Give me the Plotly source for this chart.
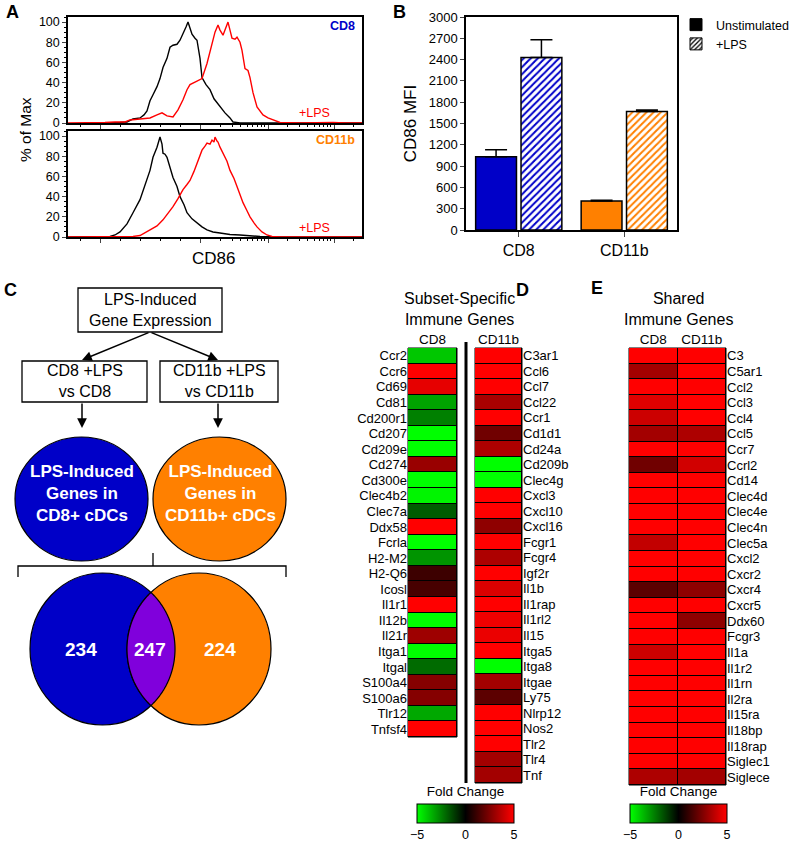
import numpy as np
import plotly.graph_objects as go

W, H = 794, 842
FONT = "Liberation Sans, Arial, sans-serif"

# ---------------- Panel A: CD86 histograms (% of max) ----------------
cd8_ctrl_x = [100,110,120,127,133,140,144,147,150,153,157,160,163,167,170,173,177,180,183,186,188,190,192,195,197,200,202,206,210,214,220,225,230,233,240,290,362]
cd8_ctrl_y = [0,0,0.5,1,4,5,8,12,22,28,36,44,55,64,75,77,78,82,88,95,100,94,88,84,82,64,45,38,33,24,16,10,5,1,0,0,0]
cd8_lps_x = [68,100,105,115,125,130,140,150,157,162,167,173,178,183,187,190,196,202,207,212,215,218,220,223,226,228,230,232,235,237,240,242,245,248,250,253,257,263,268,273,280,300,320,327,333,345,362]
cd8_lps_y = [0,0,0.5,1,1,3,4,5,8,10,7,6,13,23,33,38,41,44,59,79,90,97,92,87,96,100,92,84,83,85,80,72,54,52,45,30,16,8,5,3,0.5,0,0.5,1,0.5,0,0]
cd11b_ctrl_x = [68,100,110,115,120,127,130,133,140,147,150,153,157,160,162,163,165,167,170,173,177,180,184,187,192,197,202,207,213,220,230,240,250,260,280,362]
cd11b_ctrl_y = [0,0,0.5,2,5,13,19,24,37,59,66,79,89,99,92,83,82,79,70,59,50,40,32,24,18,14,10,7,5,4,2.5,2,1,0.5,0,0]
cd11b_lps_x = [68,120,133,140,150,157,163,168,173,178,183,187,190,194,197,200,202,205,207,210,212,214,215,217,218,220,223,227,230,234,237,240,243,247,250,254,257,262,267,272,280,362]
cd11b_lps_y = [0,0,0.5,1.5,7,11,17,23,30,38,47,52,56,65,73,80,86,90,93,92,96,94,99,95,94,89,83,75,66,58,50,42,34,26,20,14,10,5,2,0.5,0,0]
hist_yticks = [0, 20, 40, 60, 80, 100]

# ---------------- Panel B: CD86 MFI ----------------
b_categories = ["CD8", "CD11b"]
b_unstim = [1030, 410]
b_unstim_err = [100, 10]
b_lps = [2430, 1670]
b_lps_err = [250, 20]
b_colors = ["#0000C8", "#FF8000"]

# ---------------- Panel C: Venn counts ----------------
venn_counts = {"cd8_only": 234, "shared": 247, "cd11b_only": 224}

# ---------------- Panel D: subset-specific genes ----------------
d_cd8_genes = ["Ccr2","Ccr6","Cd69","Cd81","Cd200r1","Cd207","Cd209e","Cd274","Cd300e","Clec4b2",
               "Clec7a","Ddx58","Fcrla","H2-M2","H2-Q6","Icosl","Il1r1","Il12b","Il21r","Itga1",
               "Itgal","S100a4","S100a6","Tlr12","Tnfsf4"]
d_cd8_fc = [-3.9,5,4.5,-3.2,-2.5,-5,-5,3.0,-5,-4.8,
            -1.8,5,-5,-2.9,1.2,1.4,5,-5,3.1,-5,
            -2.1,2.6,2.6,-3.3,5]
d_cd11b_genes = ["C3ar1","Ccl6","Ccl7","Ccl22","Ccr1","Cd1d1","Cd24a","Cd209b","Clec4g","Cxcl3",
                 "Cxcl10","Cxcl16","Fcgr1","Fcgr4","Igf2r","Il1b","Il1rap","Il1rl2","Il15","Itga5",
                 "Itga8","Itgae","Ly75","Nlrp12","Nos2","Tlr2","Tlr4","Tnf"]
d_cd11b_fc = [5,5,5,3.3,5,2.2,3.4,-5,-5,5,
              5,2.8,5,3.4,5,4.3,5,4.7,4.6,5,
              -5,3.2,1.8,5,5,5,3.2,3.2]

# ---------------- Panel E: shared genes ----------------
e_genes = ["C3","C5ar1","Ccl2","Ccl3","Ccl4","Ccl5","Ccr7","Ccrl2","Cd14","Clec4d",
           "Clec4e","Clec4n","Clec5a","Cxcl2","Cxcr2","Cxcr4","Cxcr5","Ddx60","Fcgr3","Il1a",
           "Il1r2","Il1rn","Il2ra","Il15ra","Il18bp","Il18rap","Siglec1","Siglece"]
e_cd8_fc = [5,3.2,5,4.4,4.0,3.2,5,2.2,5,5,
            5,5,3.8,5,5,1.8,5,5,5,4.0,
            5,5,5,5,5,5,5,3.4]
e_cd11b_fc = [5,5,5,5,5,3.4,5,4.1,5,5,
              5,5,5,5,5,2.8,5,2.8,5,5,
              5,5,5,5,5,5,5,3.2]
fc_ticks = [-5, 0, 5]

COLORSCALE = [[0, "#00FF00"], [0.5, "#000000"], [1, "#FF0000"]]


def dx(a, b):
    return [a / W, b / W]


def dy(top, bottom):
    return [1 - bottom / H, 1 - top / H]


fig = go.Figure()

# ---- Panel A traces
for xs, ys, col, ax in [(cd8_ctrl_x, cd8_ctrl_y, "black", "1"), (cd8_lps_x, cd8_lps_y, "#FF0000", "1"),
                        (cd11b_ctrl_x, cd11b_ctrl_y, "black", "2"), (cd11b_lps_x, cd11b_lps_y, "#FF0000", "2")]:
    fig.add_trace(go.Scatter(x=xs, y=ys, mode="lines", line=dict(color=col, width=1.4),
                             xaxis="x" if ax == "1" else "x2", yaxis="y" if ax == "1" else "y2",
                             showlegend=False, hoverinfo="skip"))

# ---- Panel B traces
fig.add_trace(go.Bar(x=b_categories, y=b_unstim, name="Unstimulated", xaxis="x3", yaxis="y3",
                     marker=dict(color=b_colors, line=dict(color="black", width=1.5)),
                     error_y=dict(type="data", array=b_unstim_err, arrayminus=[0, 0], symmetric=False,
                                  color="black", thickness=1.5, width=11),
                     showlegend=False))
fig.add_trace(go.Bar(x=b_categories, y=b_lps, name="+LPS", xaxis="x3", yaxis="y3",
                     marker=dict(color=b_colors, line=dict(color="black", width=1.5),
                                 pattern=dict(shape="/", fgcolor=b_colors, bgcolor="white",
                                              size=5, solidity=0.4, fillmode="replace")),
                     error_y=dict(type="data", array=b_lps_err, arrayminus=[0, 0], symmetric=False,
                                  color="black", thickness=1.5, width=11),
                     showlegend=False))
# legend entries
fig.add_trace(go.Bar(x=[None], y=[None], name="Unstimulated", xaxis="x7", yaxis="y7",
                     marker=dict(color="black", line=dict(color="black", width=1))))
fig.add_trace(go.Bar(x=[None], y=[None], name="+LPS", xaxis="x7", yaxis="y7",
                     marker=dict(color="black", line=dict(color="black", width=1),
                                 pattern=dict(shape="/", fgcolor="black", bgcolor="white",
                                              size=4, solidity=0.4, fillmode="replace"))))

# ---- Panel D heatmaps
fig.add_trace(go.Heatmap(z=[[v] for v in d_cd8_fc], x=["CD8"], y=d_cd8_genes, xaxis="x4", yaxis="y4",
                         coloraxis="coloraxis", xgap=1, ygap=1, hoverinfo="skip"))
fig.add_trace(go.Heatmap(z=[[v] for v in d_cd11b_fc], x=["CD11b"], y=d_cd11b_genes, xaxis="x5", yaxis="y5",
                         coloraxis="coloraxis", xgap=1, ygap=1, hoverinfo="skip"))
# ---- Panel E heatmap
fig.add_trace(go.Heatmap(z=[[a, b] for a, b in zip(e_cd8_fc, e_cd11b_fc)], x=["CD8", "CD11b"], y=e_genes,
                         xaxis="x6", yaxis="y6", coloraxis="coloraxis2", xgap=1, ygap=1, hoverinfo="skip"))

axfont = dict(family=FONT, size=12.5, color="black")

# Panel A axes
major_x = [100, 200, 268, 334]
minor_x = [80, 120, 140, 160, 180] + [200 + 68 * np.log10(k) for k in range(2, 10)] + \
          [268 + 66 * np.log10(k) for k in range(2, 10)] + [334 + 66 * np.log10(k) for k in range(2, 4)]
for i, (top, bot) in enumerate([(17, 123), (131, 237)]):
    n = "" if i == 0 else "2"
    fig.update_layout(**{
        f"xaxis{n}": dict(domain=dx(68, 362), range=[68, 362], anchor=f"y{n}", showgrid=False, zeroline=False,
                          showline=True, mirror=True, linecolor="black", linewidth=1.5, automargin=False,
                          ticks="outside", ticklen=4, tickwidth=1, tickvals=major_x, showticklabels=False,
                          minor=dict(tickvals=minor_x, ticks="outside", ticklen=2, tickcolor="black")),
        f"yaxis{n}": dict(domain=dy(top, bot), range=[0, 105], anchor=f"x{n}", showgrid=False, zeroline=False,
                          showline=True, mirror=True, linecolor="black", linewidth=1.5, automargin=False,
                          ticks="outside", ticklen=4, tickvals=hist_yticks, tickfont=axfont,
                          minor=dict(dtick=5, ticks="outside", ticklen=2, tickcolor="black")),
    })

# Panel B axes
fig.update_layout(
    xaxis3=dict(domain=dx(466, 677), anchor="y3", showgrid=False, zeroline=False, showline=True, mirror=True,
                automargin=False,
                linecolor="black", linewidth=1.5, ticks="outside", ticklen=5, tickfont=dict(family=FONT, size=16)),
    yaxis3=dict(domain=dy(17, 230), range=[0, 3000], dtick=300, anchor="x3", showgrid=False, zeroline=False,
                showline=True, mirror=True, linecolor="black", linewidth=1.5, ticks="outside", ticklen=4,
                automargin=False, tickfont=dict(family=FONT, size=13),
                title=dict(text="CD86 MFI", font=dict(family=FONT, size=17), standoff=8)),
    barmode="group", bargap=0.14, bargroupgap=0.1,
)

# Heatmap axes
hm_x = dict(showgrid=False, zeroline=False, showline=False, ticks="", side="top", automargin=False,
            tickfont=dict(family=FONT, size=13.5))
hm_y = dict(showgrid=False, zeroline=False, showline=False, ticks="", autorange="reversed", automargin=False,
            tickfont=dict(family=FONT, size=13), tickmode="array")
fig.update_layout(
    xaxis4=dict(domain=dx(408, 457), anchor="y4", **hm_x),
    yaxis4=dict(domain=dy(348, 737), anchor="x4", side="left", tickvals=d_cd8_genes, ticktext=d_cd8_genes, **hm_y),
    xaxis5=dict(domain=dx(475, 522), anchor="y5", **hm_x),
    yaxis5=dict(domain=dy(348, 783), anchor="x5", side="right", tickvals=d_cd11b_genes, ticktext=d_cd11b_genes,
                **hm_y),
    xaxis6=dict(domain=dx(629, 726), anchor="y6", **hm_x),
    yaxis6=dict(domain=dy(348, 785), anchor="x6", side="right", tickvals=e_genes, ticktext=e_genes, **hm_y),
    xaxis7=dict(domain=[0, 1], range=[0, W], anchor="y7", visible=False, fixedrange=True, automargin=False),
    yaxis7=dict(domain=[0, 1], range=[H, 0], anchor="x7", visible=False, fixedrange=True, automargin=False),
)

cb_common = dict(orientation="h", thickness=19, len=97, lenmode="pixels", xanchor="left", yanchor="top",
                 title=dict(text="Fold Change", side="top", font=dict(family=FONT, size=13.5)),
                 tickvals=fc_ticks, ticks="", tickfont=dict(family=FONT, size=12.5),
                 outlinewidth=1, outlinecolor="black", xpad=0, ypad=0)
fig.update_layout(
    coloraxis=dict(colorscale=COLORSCALE, cmin=-5, cmax=5,
                   colorbar=dict(x=417 / W, y=1 - 789 / H, **cb_common)),
    coloraxis2=dict(colorscale=COLORSCALE, cmin=-5, cmax=5,
                    colorbar=dict(x=630 / W, y=1 - 789 / H, **cb_common)),
)

shapes = []
# black backgrounds behind heatmaps (cell borders)
for n in ["4", "5", "6"]:
    shapes.append(dict(type="rect", xref=f"x{n} domain", yref=f"y{n} domain", x0=0, x1=1, y0=0, y1=1,
                       fillcolor="black", line=dict(color="black", width=1), layer="below"))
# Panel D separator
shapes.append(dict(type="line", xref="x7", yref="y7", x0=466, x1=466, y0=342, y1=783,
                   line=dict(color="black", width=3)))

# Panel C boxes
def rect(x0, x1, y0, y1):
    return dict(type="rect", xref="x7", yref="y7", x0=x0, x1=x1, y0=y0, y1=y1,
                line=dict(color="black", width=1.3), fillcolor="white", layer="above")

shapes += [rect(78, 222, 288, 332), rect(22, 147, 361, 402), rect(160, 278, 361, 402)]
# circles
shapes.append(dict(type="circle", xref="x7", yref="y7", x0=15, x1=148, y0=437, y1=561,
                   fillcolor="#0000C8", line=dict(color="black", width=1.2)))
shapes.append(dict(type="circle", xref="x7", yref="y7", x0=153, x1=286, y0=437, y1=561,
                   fillcolor="#FF8000", line=dict(color="black", width=1.2)))
# bracket
shapes.append(dict(type="path", xref="x7", yref="y7", path="M18,577 L18,566 L286,566 L286,577",
                   line=dict(color="black", width=1.3)))
shapes.append(dict(type="line", xref="x7", yref="y7", x0=153, x1=153, y0=553, y1=566,
                   line=dict(color="black", width=1.3)))
# Venn
lc = (102.5, 649, 72.5, 76)
rc = (199, 649, 72, 76)
shapes.append(dict(type="circle", xref="x7", yref="y7", x0=lc[0] - lc[2], x1=lc[0] + lc[2],
                   y0=lc[1] - lc[3], y1=lc[1] + lc[3], fillcolor="#0000C8", line=dict(color="black", width=1.2)))
shapes.append(dict(type="circle", xref="x7", yref="y7", x0=rc[0] - rc[2], x1=rc[0] + rc[2],
                   y0=rc[1] - rc[3], y1=rc[1] + rc[3], fillcolor="#FF8000", line=dict(color="black", width=1.2)))


def inside(px, py, c):
    return ((px - c[0]) / c[2]) ** 2 + ((py - c[1]) / c[3]) ** 2 <= 1.0


t = np.linspace(0, 2 * np.pi, 721)
lx = lc[0] + lc[2] * np.cos(t); ly = lc[1] + lc[3] * np.sin(t)
sel = inside(lx, ly, rc)
tl = t[sel]; tl = np.where(tl > np.pi, tl - 2 * np.pi, tl); order = np.argsort(tl)
arc1 = [(lc[0] + lc[2] * np.cos(a), lc[1] + lc[3] * np.sin(a)) for a in tl[order]]
rx = rc[0] + rc[2] * np.cos(t); ry = rc[1] + rc[3] * np.sin(t)
sel2 = inside(rx, ry, lc)
tr = t[sel2]; order2 = np.argsort(tr)
arc2 = [(rc[0] + rc[2] * np.cos(a), rc[1] + rc[3] * np.sin(a)) for a in tr[order2]]
lens = arc1 + arc2
path = "M" + " L".join(f"{x:.2f},{y:.2f}" for x, y in lens) + " Z"
shapes.append(dict(type="path", xref="x7", yref="y7", path=path, fillcolor="#8000DC",
                   line=dict(color="black", width=1.2)))

fig.update_layout(shapes=shapes)

ann = []


def text(x, y, s, size=13, color="black", bold=False, xanchor="center", angle=0):
    if bold:
        s = f"<b>{s}</b>"
    ann.append(dict(x=x, y=y, xref="x7", yref="y7", text=s, showarrow=False, xanchor=xanchor,
                    yanchor="middle", textangle=angle, font=dict(family=FONT, size=size, color=color)))


# panel letters
for lt, x, y in [("A", 4, 12), ("B", 391, 12), ("C", 2, 290), ("D", 514, 290), ("E", 589, 288)]:
    text(x, y, lt, size=18, bold=True, xanchor="left")

# Panel A labels
text(25, 130, "% of Max", size=15.5, angle=-90)
text(213, 258, "CD86", size=17)
text(357, 26, "CD8", size=12.5, color="#0000C8", bold=True, xanchor="right")
text(357, 140, "CD11b", size=12.5, color="#FF8000", bold=True, xanchor="right")
text(314, 113, "+LPS", size=12.5, color="#FF0000")
text(314, 228, "+LPS", size=12.5, color="#FF0000")

# Panel C texts
text(150, 310, "LPS-Induced<br>Gene Expression", size=16)
text(84.5, 381, "CD8 +LPS<br>vs CD8", size=16)
text(219, 381, "CD11b +LPS<br>vs CD11b", size=16)
text(82, 493, "LPS-Induced<br>Genes in<br>CD8+ cDCs", size=17, color="white", bold=True)
text(220, 493, "LPS-Induced<br>Genes in<br>CD11b+ cDCs", size=17, color="white", bold=True)
text(81, 649, str(venn_counts["cd8_only"]), size=19, color="white", bold=True)
text(150, 649, str(venn_counts["shared"]), size=19, color="white", bold=True)
text(220, 649, str(venn_counts["cd11b_only"]), size=19, color="white", bold=True)

# arrows
for (x0, y0, x1, y1) in [(150, 332, 82, 360), (150, 332, 218, 360), (82, 402, 82, 428), (218, 402, 218, 428)]:
    ann.append(dict(x=x1, y=y1, ax=x0, ay=y0, xref="x7", yref="y7", axref="x7", ayref="y7", text="",
                    showarrow=True, arrowhead=2, arrowsize=1.3, arrowwidth=1.5, arrowcolor="black"))

# Panel D / E titles
text(459, 309, "Subset-Specific<br>Immune Genes", size=16)
text(678, 309, "Shared<br>Immune Genes", size=16)

fig.update_layout(
    annotations=ann,
    width=W, height=H, margin=dict(l=0, r=0, t=0, b=0, autoexpand=False),
    paper_bgcolor="white", plot_bgcolor="rgba(0,0,0,0)",
    font=dict(family=FONT, size=12, color="black"),
    legend=dict(x=676 / W, y=1 - 10 / H, xanchor="left", yanchor="top", bgcolor="rgba(0,0,0,0)",
                font=dict(family=FONT, size=12.5), tracegroupgap=2, itemwidth=30),
    showlegend=True,
)

fig.write_html("out.html", config={"displayModeBar": False},
               post_script="document.body.style.margin='0';document.body.style.overflow='hidden';")
